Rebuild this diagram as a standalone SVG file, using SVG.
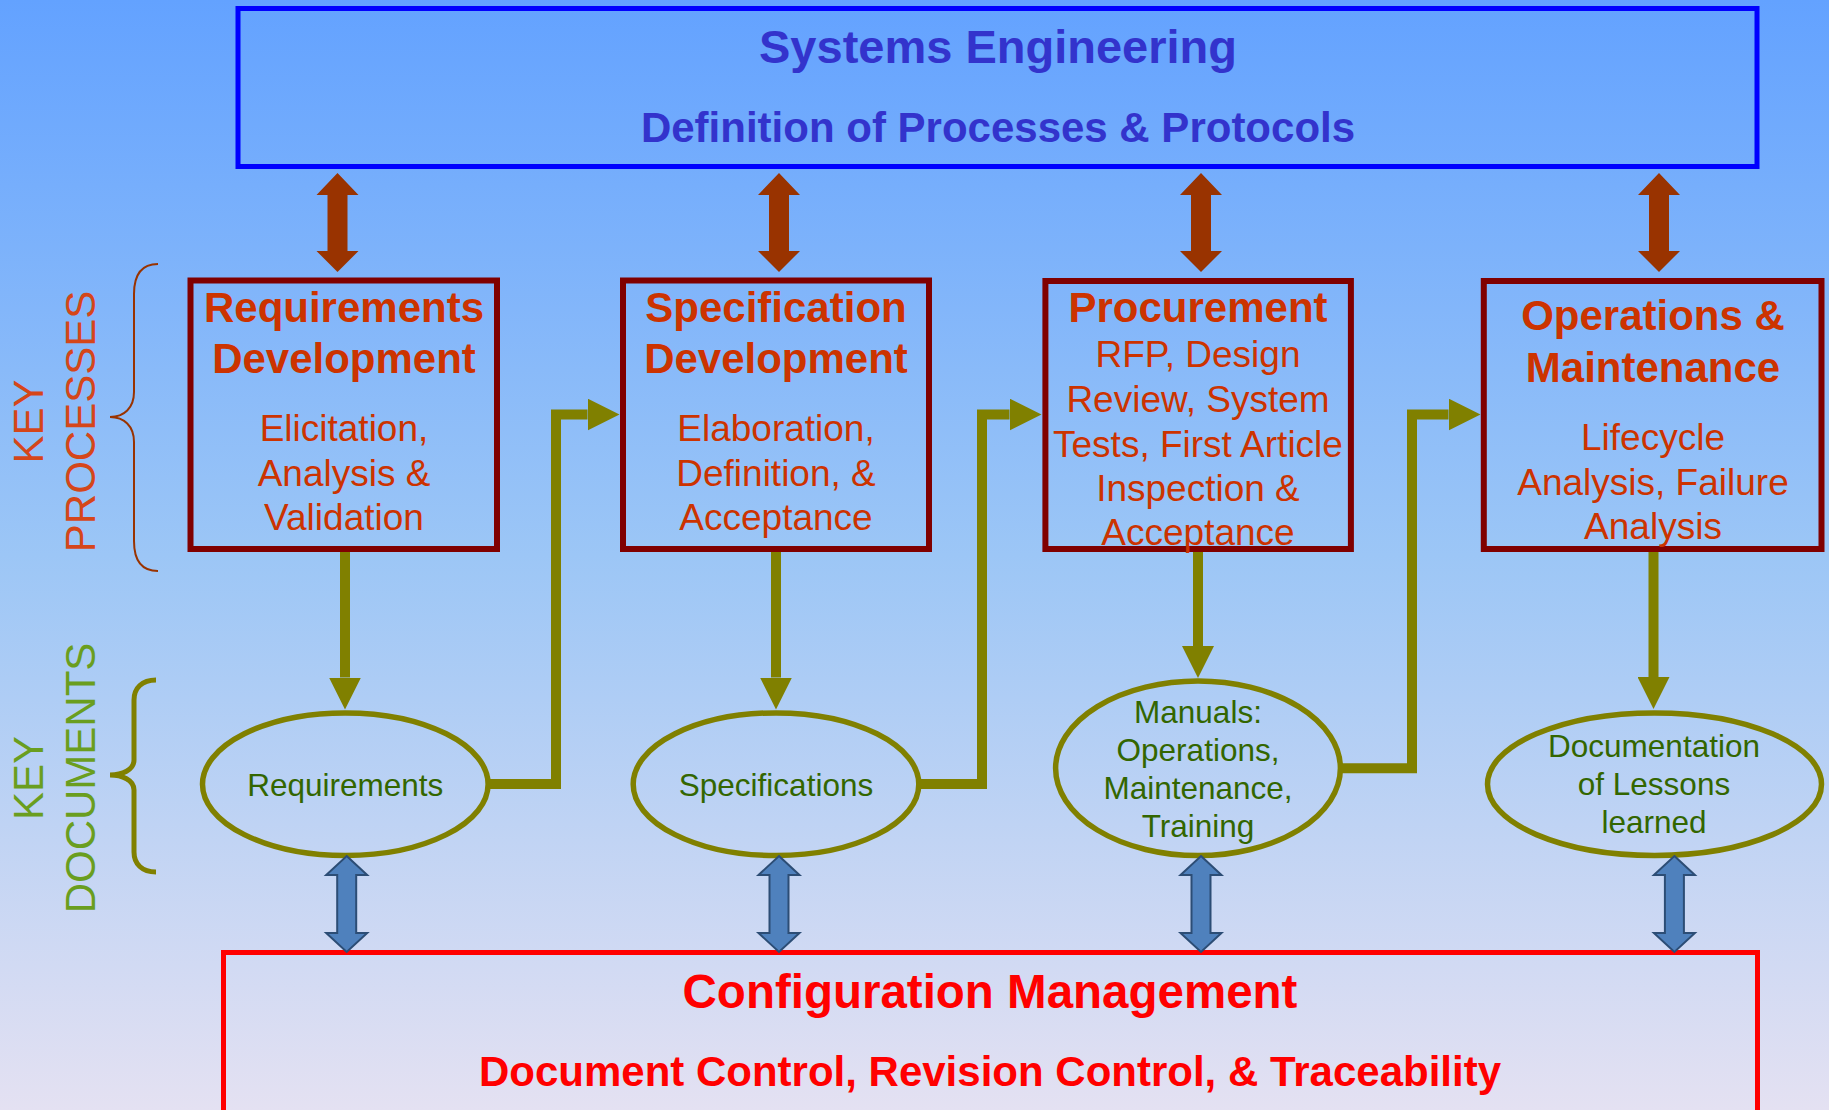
<svg xmlns="http://www.w3.org/2000/svg" xmlns:xlink="http://www.w3.org/1999/xlink" width="1829" height="1110" viewBox="0 0 1829 1110">
<defs>
<linearGradient id="bg" x1="0" y1="0" x2="0" y2="1">
<stop offset="0" stop-color="#63A2FF"/>
<stop offset="0.5" stop-color="#9CC6F6"/>
<stop offset="1" stop-color="#E4E1F2"/>
</linearGradient>
<marker id="olive" markerUnits="userSpaceOnUse" markerWidth="32" markerHeight="32" refX="0" refY="16" orient="auto" viewBox="0 0 32 32">
<path d="M0,0 L32,16 L0,32 Z" fill="#808000"/>
</marker>
<path id="brownArrow" d="M0,173 L21,195 L10,195 L10,251 L21,251 L0,272 L-21,251 L-10,251 L-10,195 L-21,195 Z"/>
<path id="blueArrow" d="M0,856 L20.5,875 L9.5,875 L9.5,933 L20.5,933 L0,952 L-20.5,933 L-9.5,933 L-9.5,875 L-20.5,875 Z"/>
</defs>
<style>
text{font-family:"Liberation Sans",Arial,sans-serif;text-anchor:middle}
.se{fill:#3333CC;font-weight:bold}
.box{fill:none;stroke:#800000;stroke-width:6}
.ttl{fill:#CC3300;font-weight:bold;font-size:42px}
.body{fill:#CC3300;font-size:37px}
.ell{fill:none;stroke:#808000;stroke-width:5.5}
.doc{fill:#336600;font-size:31.5px}
.flow{fill:none;stroke:#808000;stroke-width:10;stroke-linejoin:miter;marker-end:url(#olive)}
.brown{fill:#993300}
.blue{fill:#4F81BD;stroke:#2C4D75;stroke-width:2}
.cm{fill:#FF0000;font-weight:bold}
</style>
<rect x="0" y="0" width="1829" height="1110" fill="url(#bg)"/>

<g id="side-labels">
<text transform="translate(43,421.5) rotate(-90)" font-size="42" fill="#D5461A">KEY</text>
<text transform="translate(94.5,421.5) rotate(-90)" font-size="42" fill="#D5461A">PROCESSES</text>
<path d="M158,264 C141,264 134,276 134,294 L134,392 C134,408 124,417 110,417 C124,417 134,426 134,442 L134,541 C134,559 141,571 158,571" fill="none" stroke="#993300" stroke-width="2"/>
<text transform="translate(43,778) rotate(-90)" font-size="42" fill="#6A9E1F">KEY</text>
<text transform="translate(94.7,778) rotate(-90)" font-size="42" fill="#6A9E1F">DOCUMENTS</text>
<path d="M156,680 C142,680 134,688 134,700 L134,760 C134,770 122,775 110,775 C122,775 134,780 134,790 L134,852 C134,864 142,872 156,872" fill="none" stroke="#808000" stroke-width="5"/>
</g>

<g id="systems-engineering">
<rect x="238" y="8.5" width="1519" height="158" fill="none" stroke="#0000FF" stroke-width="5"/>
<text class="se" x="998" y="63" font-size="47">Systems Engineering</text>
<text class="se" x="998" y="142" font-size="42">Definition of Processes &amp; Protocols</text>
</g>

<g id="requirements-development">
<rect class="box" x="190.5" y="280.5" width="306.5" height="268.5"/>
<text class="ttl" x="344" y="321.7">Requirements</text>
<text class="ttl" x="344" y="373">Development</text>
<text class="body" x="344" y="440.7">Elicitation,</text>
<text class="body" x="344" y="485.7">Analysis &amp;</text>
<text class="body" x="344" y="530">Validation</text>
</g>

<g id="specification-development">
<rect class="box" x="623" y="280.5" width="306" height="268.5"/>
<text class="ttl" x="776" y="321.7">Specification</text>
<text class="ttl" x="776" y="373">Development</text>
<text class="body" x="776" y="440.7">Elaboration,</text>
<text class="body" x="776" y="485.7">Definition, &amp;</text>
<text class="body" x="776" y="530">Acceptance</text>
</g>

<g id="procurement">
<rect class="box" x="1045.4" y="281" width="305.5" height="268"/>
<text class="ttl" x="1198" y="321.7">Procurement</text>
<text class="body" x="1198" y="367.3">RFP, Design</text>
<text class="body" x="1198" y="412.3">Review, System</text>
<text class="body" x="1198" y="456.7">Tests, First Article</text>
<text class="body" x="1198" y="500.7">Inspection &amp;</text>
<text class="body" x="1198" y="545">Acceptance</text>
</g>

<g id="operations-maintenance">
<rect class="box" x="1483.8" y="281" width="337.7" height="268"/>
<text class="ttl" x="1653" y="330">Operations &amp;</text>
<text class="ttl" x="1653" y="382.3">Maintenance</text>
<text class="body" x="1653" y="450">Lifecycle</text>
<text class="body" x="1653" y="495">Analysis, Failure</text>
<text class="body" x="1653" y="539.3">Analysis</text>
</g>

<g id="doc-requirements">
<ellipse class="ell" cx="345.3" cy="784.2" rx="142.8" ry="71.3"/>
<text class="doc" x="345.3" y="796">Requirements</text>
</g>

<g id="doc-specifications">
<ellipse class="ell" cx="776" cy="784.2" rx="142.8" ry="71.3"/>
<text class="doc" x="776" y="796">Specifications</text>
</g>

<g id="doc-manuals">
<ellipse class="ell" cx="1198" cy="768.3" rx="142.4" ry="87.3"/>
<text class="doc" x="1198" y="722.7">Manuals:</text>
<text class="doc" x="1198" y="761">Operations,</text>
<text class="doc" x="1198" y="799.3">Maintenance,</text>
<text class="doc" x="1198" y="837.3">Training</text>
</g>

<g id="doc-lessons">
<ellipse class="ell" cx="1654.5" cy="784.2" rx="167" ry="71.3"/>
<text class="doc" x="1654" y="757.3">Documentation</text>
<text class="doc" x="1654" y="795">of Lessons</text>
<text class="doc" x="1654" y="832.7">learned</text>
</g>

<g id="configuration-management">
<rect x="223.5" y="952.5" width="1534" height="200" fill="none" stroke="#FF0000" stroke-width="5"/>
<text class="cm" x="990" y="1008.3" font-size="47.5">Configuration Management</text>
<text class="cm" x="990" y="1086" font-size="42">Document Control, Revision Control, &amp; Traceability</text>
</g>

<g id="connectors">
<use href="#brownArrow" class="brown" x="337.5"/>
<use href="#brownArrow" class="brown" x="779"/>
<use href="#brownArrow" class="brown" x="1201"/>
<use href="#brownArrow" class="brown" x="1659"/>
<path class="flow" d="M345,552 L345,677.5"/>
<path class="flow" d="M776,552 L776,677.5"/>
<path class="flow" d="M1198,552 L1198,646"/>
<path class="flow" d="M1653.5,552 L1653.5,677"/>
<path class="flow" d="M488,784 L556,784 L556,414.5 L587.5,414.5"/>
<path class="flow" d="M918.5,784 L982,784 L982,414.5 L1009.5,414.5"/>
<path class="flow" d="M1340,768.3 L1412,768.3 L1412,414.5 L1448.5,414.5"/>
<use href="#blueArrow" class="blue" x="346.7"/>
<use href="#blueArrow" class="blue" x="779"/>
<use href="#blueArrow" class="blue" x="1201"/>
<use href="#blueArrow" class="blue" x="1674.4"/>
</g>
</svg>
